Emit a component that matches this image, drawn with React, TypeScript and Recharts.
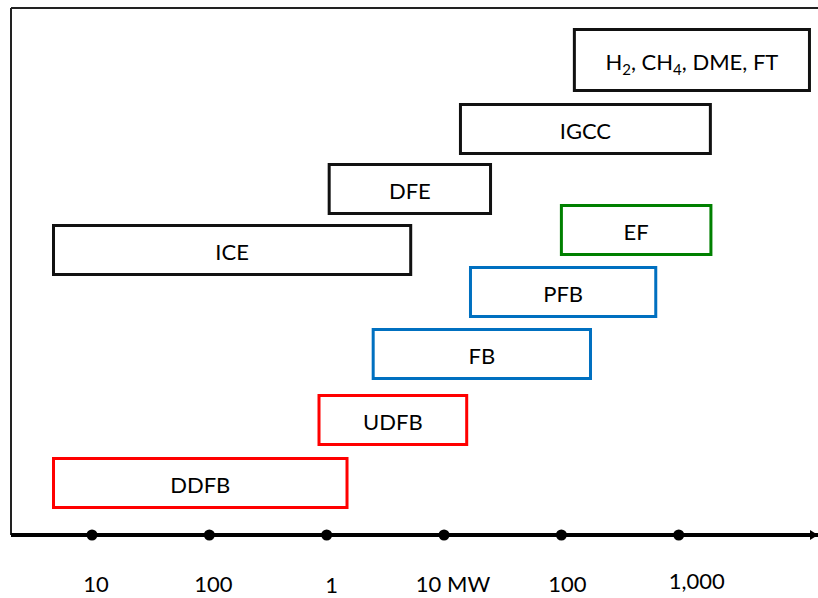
import {
  ComposedChart,
  XAxis,
  YAxis,
  Scatter,
  ReferenceArea,
  ReferenceLine
} from "recharts";

// plant size in kW (log axis)
const tickValues = [10, 100, 1000, 10000, 100000, 1000000];
const tickLabels = ["10", "100", "1", "10 MW", "100", "1,000"];

const boxNames = ["H2, CH4, DME, FT", "IGCC", "DFE", "EF", "ICE", "PFB", "FB", "UDFB", "DDFB"];
const boxFrom = [129000, 13800, 1050, 100000, 4.7, 16800, 2490, 860, 4.7];
const boxTo = [13000000, 1860000, 24900, 1880000, 5200, 637000, 177000, 15600, 1490];
// vertical lane of each box
const boxLane = [47.5, 40.6, 34.6, 30.5, 28.5, 24.3, 18.1, 11.5, 5.2];
const boxGroup = ["product", "power", "power", "ef", "power", "fb", "fb", "dd", "dd"];

const groupColor: Record<string, string> = {
  product: "#111",
  power: "#111",
  ef: "#008000",
  fb: "#0070c0",
  dd: "#ff0000"
};

const FONT = "Lato, 'Open Sans', sans-serif";
const X_MIN = 2.041;
const X_MAX = 15370000;
const Y_MAX = 52.7;

const dots = tickValues.map((v) => ({ x: v, y: 0 }));

function BoxLabel({ viewBox, text }: any) {
  const cx = viewBox.x + viewBox.width / 2;
  const cy = viewBox.y + viewBox.height / 2;
  const parts = text.split(/(\d)/).filter((p: string) => p !== "");
  let shifted = false;
  return (
    <text x={cx} y={cy + 10} textAnchor="middle" fontSize={22} fontFamily={FONT} fill="#000">
      {parts.map((p: string, i: number) => {
        if (/\d/.test(p)) {
          shifted = true;
          return (
            <tspan key={i} fontSize={15} dy={5}>
              {p}
            </tspan>
          );
        }
        const dy = shifted ? -5 : 0;
        shifted = false;
        return (
          <tspan key={i} dy={dy}>
            {p}
          </tspan>
        );
      })}
    </text>
  );
}

const tickNudge = [4, 4, 5, 9, 6, 18];
const tickDrop = [0, 0, 1, 0, 0, -3];

function Tick({ x, y, payload }: any) {
  const i = tickValues.indexOf(payload.value);
  return (
    <text
      x={x + (tickNudge[i] ?? 0)}
      y={y + 49 + (tickDrop[i] ?? 0)}
      textAnchor="middle"
      fontSize={22}
      fontFamily={FONT}
      fill="#000"
    >
      {tickLabels[i]}
    </text>
  );
}

function Arrow({ viewBox }: any) {
  const tipX = viewBox.x + viewBox.width;
  const y = viewBox.y;
  return <polygon points={`${tipX},${y} ${tipX - 8},${y - 5} ${tipX - 8},${y + 5}`} fill="#000" />;
}

export default function App() {
  return (
    <div style={{ position: "absolute", left: 0, top: 0, background: "#fff" }}>
      <ComposedChart
        width={818}
        height={598}
        data={dots}
        margin={{ top: 8, right: 0, bottom: 0, left: 11 }}
      >
        <XAxis
          dataKey="x"
          type="number"
          scale="log"
          domain={[X_MIN, X_MAX]}
          ticks={tickValues}
          interval={0}
          height={63}
          tickLine={false}
          axisLine={{ stroke: "#000", strokeWidth: 4 }}
          tick={<Tick />}
          label={<Arrow />}
        />
        <YAxis
          dataKey="y"
          type="number"
          domain={[0, Y_MAX]}
          width={0}
          tick={false}
          tickLine={false}
          axisLine={false}
        />
        <ReferenceLine y={Y_MAX} stroke="#222" strokeWidth={2} />
        <ReferenceLine x={X_MIN} stroke="#222" strokeWidth={2} />
        {boxNames.map((name, i) => {
          const half = i === 0 ? 3.05 : 2.45;
          return (
            <ReferenceArea
              key={name}
              x1={boxFrom[i]}
              x2={boxTo[i]}
              y1={boxLane[i] - half}
              y2={boxLane[i] + half}
              fill="#fff"
              fillOpacity={1}
              stroke={groupColor[boxGroup[i]]}
              strokeWidth={3}
              label={<BoxLabel text={name} />}
            />
          );
        })}
        <Scatter
          dataKey="y"
          fill="#000"
          isAnimationActive={false}
          shape={(p: any) => <circle cx={p.cx} cy={p.cy} r={5.5} fill="#000" />}
        />
      </ComposedChart>
    </div>
  );
}
